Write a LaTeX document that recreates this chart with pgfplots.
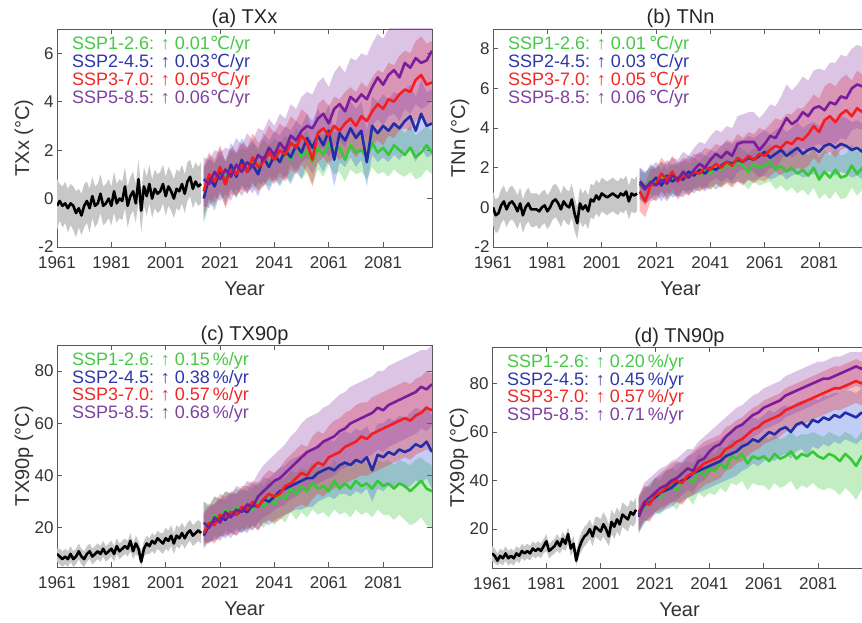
\documentclass[border=0pt]{standalone}
\usepackage{pgfplots}
\pgfplotsset{compat=1.18}
\usepackage{pgfplotstable}
\usepgfplotslibrary{fillbetween}
\usepackage{fontspec}
\setmainfont{Liberation Sans}
\newfontfamily\dejavu{DejaVu Sans}

\definecolor{cg}{RGB}{55,200,55}
\definecolor{cb}{RGB}{35,45,170}
\definecolor{cr}{RGB}{245,30,30}
\definecolor{cp}{RGB}{120,30,155}
\definecolor{bandb}{RGB}{50,90,220}
\definecolor{bandp}{RGB}{140,60,170}
\definecolor{tg}{RGB}{70,200,70}
\definecolor{tb}{RGB}{45,55,170}
\definecolor{tr}{RGB}{240,40,40}
\definecolor{tp}{RGB}{125,65,160}

\newcommand{\cel}{{\dejavu ℃}}

% historical runs: year, mean, band low, band high
\pgfplotstableread{
yr m lo hi
1961 -0.3 -1.3 0.8
1962 -0.1 -0.9 0.6
1963 -0.3 -1.2 0.5
1964 -0.2 -1.0 0.7
1965 -0.4 -1.4 0.4
1966 -0.2 -1.1 0.6
1967 -0.3 -1.3 0.5
1968 -0.6 -1.6 0.3
1969 -0.4 -1.2 0.4
1970 -0.7 -1.5 0.2
1971 -0.3 -1.2 0.6
1972 -0.1 -1.0 0.7
1973 -0.4 -1.4 0.4
1974 0.1 -0.8 0.9
1975 -0.3 -1.2 0.5
1976 -0.2 -1.0 0.6
1977 0.2 -0.6 1.0
1978 -0.3 -1.1 0.5
1979 -0.2 -1.0 0.6
1980 0.0 -0.8 0.8
1981 -0.3 -1.1 0.5
1982 0.3 -0.6 1.1
1983 -0.2 -1.0 0.6
1984 0.0 -0.8 0.8
1985 -0.1 -0.9 0.7
1986 0.5 -0.4 1.3
1987 -0.3 -1.2 0.5
1988 0.1 -0.7 0.9
1989 0.3 -0.5 1.1
1990 -0.2 -1.0 0.6
1991 0.8 -0.1 1.6
1992 -0.5 -1.4 0.3
1993 0.5 -0.3 1.3
1994 0.1 -0.7 0.9
1995 0.6 -0.2 1.4
1996 0.0 -0.8 0.8
1997 0.4 -0.4 1.2
1998 0.2 -0.6 1.0
1999 0.3 -0.5 1.1
2000 0.6 -0.2 1.4
2001 0.1 -0.7 0.9
2002 0.5 -0.3 1.3
2003 0.3 -0.5 1.1
2004 0.0 -0.8 0.8
2005 0.4 -0.4 1.2
2006 0.3 -0.5 1.1
2007 0.6 -0.2 1.4
2008 0.2 -0.6 1.0
2009 0.7 -0.1 1.5
2010 0.9 0.1 1.6
2011 0.4 -0.4 1.2
2012 0.7 -0.1 1.5
2013 0.5 -0.3 1.3
2014 0.6 -0.2 1.5
}\histA

\pgfplotstableread{
yr g gl gh b bl bh r rl rh p pl ph
2015 0.3 -1.0 1.3 0.0 -0.9 1.2 0.3 -0.6 1.4 0.8 -0.3 1.7
2017 0.9 -0.2 1.6 0.9 -0.1 1.8 1.0 0.0 1.9 0.6 -0.4 1.6
2019 0.7 -0.3 1.5 0.5 -0.5 1.4 0.7 -0.2 1.6 1.1 0.1 2.0
2021 1.1 0.2 1.8 1.2 0.2 2.1 1.3 0.3 2.2 0.8 -0.1 1.9
2023 0.8 -0.1 1.6 0.6 -0.3 1.5 0.6 -0.4 1.5 1.2 0.2 2.1
2025 1.3 0.4 2.0 1.4 0.4 2.3 1.2 0.2 2.1 0.9 -0.1 2.0
2027 1.0 0.1 1.8 0.9 0.0 1.9 1.0 0.1 1.9 1.4 0.4 2.5
2029 1.4 0.5 2.1 1.6 0.6 2.5 1.4 0.4 2.3 1.1 0.1 2.2
2031 1.2 0.3 2.0 1.1 0.2 2.1 1.1 0.2 2.1 1.5 0.5 2.7
2033 1.5 0.6 2.3 1.4 0.5 2.4 1.7 0.7 2.7 1.3 0.2 2.4
2035 1.3 0.4 2.1 1.0 0.1 2.0 1.3 0.3 2.3 1.8 0.7 2.9
2037 1.6 0.7 2.4 1.7 0.7 2.7 1.5 0.5 2.5 1.6 0.5 2.8
2039 1.4 0.5 2.2 1.3 0.3 2.4 1.9 0.8 3.0 2.1 0.9 3.3
2041 1.8 0.9 2.5 1.8 0.8 2.8 1.6 0.6 2.7 1.8 0.7 3.0
2043 1.5 0.6 2.3 1.5 0.5 2.6 2.0 0.9 3.1 2.3 1.1 3.5
2045 1.9 1.0 2.6 2.0 0.9 3.0 1.8 0.7 2.9 2.0 0.8 3.3
2047 1.6 0.7 2.4 1.7 0.6 2.8 2.3 1.2 3.4 2.6 1.4 3.9
2049 2.2 1.3 2.9 2.2 1.1 3.2 2.1 1.0 3.2 2.4 1.1 3.7
2051 1.7 0.8 2.5 1.9 0.8 3.0 2.6 1.4 3.7 2.8 1.5 4.2
2053 2.0 1.1 2.8 2.5 1.4 3.5 2.3 1.1 3.5 3.0 1.7 4.4
2055 1.5 0.6 2.3 2.1 1.0 3.2 1.6 0.5 2.8 2.9 1.5 4.3
2057 2.1 1.2 2.9 2.6 1.5 3.7 2.7 1.5 3.9 3.3 1.9 4.8
2059 1.8 0.9 2.6 2.2 1.1 3.3 2.9 1.7 4.1 3.5 2.1 5.0
2061 2.3 1.4 3.0 2.8 1.6 3.9 2.6 1.4 3.8 3.1 1.7 4.6
2063 1.9 1.0 2.7 1.6 0.5 2.8 3.0 1.8 4.2 3.7 2.2 5.2
2065 2.1 1.1 2.9 2.7 1.5 3.8 2.8 1.6 4.1 3.9 2.4 5.5
2067 1.6 0.7 2.4 2.4 1.3 3.6 3.1 1.8 4.4 3.6 2.1 5.2
2069 2.2 1.2 3.0 2.9 1.7 4.0 3.3 2.0 4.6 4.2 2.7 5.8
2071 1.9 1.0 2.7 2.5 1.3 3.7 3.0 1.7 4.4 4.0 2.5 5.7
2073 2.0 1.1 2.8 2.8 1.6 4.0 3.4 2.0 4.8 4.3 2.7 6.0
2075 1.7 0.8 2.5 1.5 0.5 2.8 3.2 1.8 4.6 4.1 2.5 5.9
2077 2.3 1.3 3.1 3.0 1.8 4.2 3.6 2.2 5.0 4.6 3.0 6.4
2079 1.9 1.0 2.7 2.7 1.5 4.0 3.9 2.4 5.3 5.0 3.3 6.8
2081 2.1 1.1 2.9 3.0 1.7 4.3 3.7 2.2 5.2 4.7 3.0 6.6
2083 1.8 0.9 2.7 2.8 1.5 4.1 4.1 2.6 5.6 5.1 3.4 7.0
2085 2.2 1.2 3.0 3.1 1.8 4.4 4.0 2.5 5.5 5.3 3.5 7.2
2087 2.0 1.0 2.9 2.9 1.6 4.3 4.3 2.8 5.9 5.0 3.2 7.0
2089 1.8 0.9 2.7 3.2 1.9 4.5 4.5 2.9 6.1 5.6 3.7 7.5
2091 2.1 1.1 3.0 3.4 2.0 4.7 4.4 2.8 6.0 5.4 3.5 7.4
2093 1.7 0.8 2.6 2.8 1.5 4.2 4.9 3.2 6.5 5.8 3.9 7.8
2095 1.9 0.9 2.8 3.5 2.1 4.9 5.1 3.4 6.7 5.6 3.7 7.7
2097 2.2 1.2 3.0 3.0 1.7 4.4 4.7 3.0 6.4 5.7 3.8 7.8
2099 1.9 1.0 2.8 3.1 1.8 4.5 4.8 3.1 6.5 6.1 4.1 8.0
}\futA

\pgfplotstableread{
yr m lo hi
1961 0.0 -0.9 0.8
1962 -0.4 -1.3 0.4
1963 -0.3 -1.2 0.5
1964 0.1 -0.8 0.9
1965 0.3 -0.6 1.1
1966 -0.1 -1.0 0.7
1967 0.2 -0.7 1.0
1968 0.3 -0.6 1.1
1969 0.1 -0.8 0.9
1970 -0.2 -1.1 0.6
1971 0.2 -0.7 1.0
1972 -0.4 -1.3 0.4
1973 0.0 -0.9 0.8
1974 0.2 -0.7 1.0
1975 -0.1 -1.0 0.7
1976 -0.1 -1.0 0.7
1977 -0.1 -0.9 0.7
1978 -0.2 -1.1 0.6
1979 0.0 -0.9 0.8
1980 0.1 -0.8 0.9
1981 -0.2 -1.1 0.6
1982 0.0 -0.9 0.8
1983 0.3 -0.6 1.1
1984 0.4 -0.5 1.2
1985 0.2 -0.7 1.0
1986 -0.1 -1.0 0.7
1987 0.3 -0.6 1.1
1988 0.1 -0.8 0.9
1989 0.0 -0.9 0.8
1990 0.4 -0.5 1.2
1991 -0.3 -1.2 0.5
1992 -0.8 -1.6 0.0
1993 0.2 -0.7 1.0
1994 -0.1 -1.0 0.7
1995 0.1 -0.8 0.9
1996 -0.2 -1.1 0.6
1997 0.4 -0.5 1.2
1998 0.3 -0.6 1.1
1999 0.6 -0.3 1.4
2000 0.4 -0.5 1.2
2001 0.7 -0.2 1.5
2002 0.6 -0.3 1.4
2003 0.5 -0.4 1.3
2004 0.6 -0.3 1.4
2005 0.7 -0.2 1.5
2006 0.6 -0.3 1.4
2007 0.5 -0.4 1.3
2008 0.7 -0.2 1.5
2009 0.6 -0.3 1.4
2010 0.8 -0.1 1.6
2011 0.3 -0.6 1.1
2012 0.7 -0.2 1.5
2013 0.6 -0.3 1.4
2014 0.7 -0.2 1.6
}\histB

\pgfplotstableread{
yr g gl gh b bl bh r rl rh p pl ph
2015 1.1 0.4 1.8 1.3 0.5 2.0 0.8 -0.2 1.5 1.2 0.4 2.0
2017 1.0 0.3 1.7 1.0 0.2 1.8 0.3 -0.5 1.2 0.9 0.1 1.7
2019 1.4 0.7 2.1 1.2 0.4 2.0 1.1 0.3 1.9 1.3 0.5 2.2
2021 1.3 0.5 2.0 1.5 0.7 2.3 1.2 0.4 2.0 1.1 0.3 1.9
2023 1.6 0.8 2.3 1.1 0.3 1.9 1.7 0.8 2.5 1.4 0.6 2.3
2025 1.2 0.4 1.9 1.6 0.8 2.4 1.4 0.5 2.2 1.2 0.3 2.1
2027 1.5 0.7 2.2 1.3 0.5 2.1 1.8 0.9 2.6 1.6 0.7 2.5
2029 1.4 0.6 2.1 1.5 0.6 2.3 1.3 0.4 2.2 1.4 0.5 2.4
2031 1.7 0.9 2.4 1.4 0.5 2.3 1.6 0.7 2.5 1.8 0.9 2.8
2033 1.5 0.7 2.2 1.8 0.9 2.6 1.5 0.6 2.4 1.5 0.6 2.6
2035 1.8 1.0 2.5 1.6 0.7 2.5 1.8 0.9 2.7 1.9 0.9 3.0
2037 1.6 0.8 2.3 1.9 1.0 2.8 1.7 0.8 2.7 2.2 1.1 3.3
2039 1.9 1.1 2.6 1.7 0.8 2.6 2.0 1.0 3.0 2.0 0.9 3.2
2041 1.7 0.9 2.5 2.0 1.1 2.9 1.9 0.9 2.9 2.4 1.3 3.6
2043 2.0 1.2 2.8 1.9 0.9 2.8 2.2 1.2 3.2 2.7 1.5 3.9
2045 1.9 1.0 2.7 2.1 1.1 3.1 2.0 1.0 3.1 2.5 1.3 3.8
2047 2.2 1.3 3.0 2.3 1.3 3.3 2.3 1.2 3.4 2.8 1.5 4.1
2049 2.0 1.1 2.8 2.2 1.2 3.2 2.1 1.0 3.3 2.6 1.3 4.0
2051 2.3 1.4 3.1 2.4 1.3 3.4 2.5 1.3 3.7 3.2 1.8 4.6
2053 2.1 1.2 2.9 2.3 1.2 3.4 2.3 1.1 3.5 3.3 1.9 4.7
2055 1.8 0.9 2.7 2.5 1.4 3.6 2.6 1.4 3.8 3.3 1.9 4.8
2057 2.2 1.3 3.0 2.4 1.3 3.5 2.4 1.2 3.7 3.3 1.8 4.8
2059 2.0 1.1 2.9 2.6 1.5 3.7 2.7 1.4 4.0 2.9 1.5 4.5
2061 2.1 1.2 3.0 2.8 1.6 3.9 2.6 1.3 3.9 3.2 1.7 4.8
2063 2.3 1.3 3.2 2.5 1.4 3.7 2.9 1.6 4.2 3.6 2.0 5.2
2065 1.9 0.9 2.8 2.7 1.5 3.9 3.1 1.8 4.5 3.5 1.9 5.1
2067 2.1 1.1 3.0 2.9 1.7 4.1 3.0 1.6 4.4 4.0 2.4 5.6
2069 1.8 0.8 2.8 2.6 1.4 3.8 3.3 1.9 4.7 4.5 2.8 6.2
2071 2.0 1.0 3.0 2.8 1.6 4.0 3.2 1.8 4.7 4.2 2.5 5.9
2073 1.7 0.7 2.7 3.0 1.7 4.3 3.5 2.0 5.0 4.4 2.7 6.2
2075 1.9 0.9 2.9 2.7 1.5 4.0 3.4 1.9 5.0 4.8 3.0 6.6
2077 1.6 0.6 2.6 2.9 1.6 4.2 3.7 2.1 5.3 4.6 2.8 6.4
2079 2.0 1.0 3.0 3.0 1.7 4.3 4.1 2.5 5.7 5.0 3.1 6.9
2081 1.4 0.4 2.5 2.8 1.5 4.1 3.8 2.2 5.5 5.1 3.2 7.0
2083 1.8 0.7 2.9 3.1 1.8 4.4 4.4 2.7 6.1 4.9 3.0 6.9
2085 1.5 0.4 2.6 3.2 1.8 4.6 4.6 2.8 6.3 5.3 3.3 7.3
2087 1.9 0.8 3.0 3.0 1.6 4.4 4.3 2.5 6.1 5.2 3.2 7.3
2089 1.5 0.4 2.6 3.2 1.8 4.6 4.7 2.9 6.5 5.6 3.5 7.7
2091 1.6 0.5 2.7 3.1 1.7 4.5 4.9 3.0 6.7 5.5 3.4 7.6
2093 2.1 1.0 3.2 2.9 1.5 4.3 4.6 2.8 6.4 6.0 3.9 8.0
2095 1.7 0.6 2.8 3.0 1.6 4.4 5.0 3.1 6.9 6.2 4.0 8.2
2097 2.0 0.9 3.1 2.8 1.4 4.2 4.8 2.9 6.7 6.1 3.9 8.1
2099 1.9 0.8 3.0 2.9 1.5 4.3 5.1 3.2 7.0 6.5 4.3 8.5
}\futB

\pgfplotstableread{
yr m lo hi
1961 10 7 12
1962 9 6 12
1963 8 5 11
1964 9 6 12
1965 8 5 11
1966 10 7 13
1967 8 5 11
1968 9 6 12
1969 11 8 14
1970 9 6 12
1971 8 5 11
1972 10 7 13
1973 11 8 14
1974 9 6 12
1975 10 7 13
1976 11 8 14
1977 10 7 13
1978 12 9 15
1979 10 7 13
1980 11 8 14
1981 12 9 15
1982 10 7 13
1983 13 10 16
1984 11 8 14
1985 12 9 15
1986 13 10 16
1987 12 9 15
1988 15 11 18
1989 11 8 14
1990 14 10 17
1991 12 9 15
1992 7 5 11
1993 12 9 15
1994 14 10 17
1995 13 10 16
1996 15 11 18
1997 14 10 17
1998 16 12 19
1999 15 11 18
2000 14 10 18
2001 16 12 20
2002 15 11 19
2003 17 13 21
2004 14 10 18
2005 17 13 21
2006 16 12 20
2007 18 14 22
2008 16 12 20
2009 18 14 22
2010 19 15 23
2011 17 13 21
2012 18 14 22
2013 19 15 23
2014 18 14 22
}\histC

\pgfplotstableread{
yr g gl gh b bl bh r rl rh p pl ph
2015 22 14 30 17 12 25 18 13 26 22 15 30
2017 21 14 29 21 15 28 22 15 29 20 14 28
2019 25 17 32 22 15 29 21 14 29 24 16 32
2021 23 16 31 24 17 31 25 17 33 22 15 31
2023 27 19 34 23 16 31 24 17 32 26 18 34
2025 25 18 33 26 18 33 26 18 34 24 16 33
2027 28 20 35 25 17 33 25 17 33 27 19 36
2029 26 18 34 27 19 35 28 20 36 26 18 35
2031 29 21 36 26 18 34 27 19 36 29 20 38
2033 27 19 35 29 21 37 30 21 38 28 19 37
2035 30 22 38 28 19 36 28 19 37 32 22 41
2037 28 20 36 31 22 39 31 22 40 34 24 44
2039 31 23 39 30 21 39 33 23 42 36 25 46
2041 29 21 37 32 23 41 32 22 41 38 27 48
2043 33 24 40 34 24 43 33 23 43 39 28 50
2045 31 22 39 35 25 44 36 25 46 41 29 52
2047 35 26 42 36 26 46 37 26 48 43 31 55
2049 33 23 41 37 27 47 39 28 50 45 32 57
2051 36 26 43 38 27 48 41 29 52 47 34 60
2053 34 24 42 39 28 49 40 28 51 49 35 62
2055 37 27 45 39 28 50 43 31 55 50 36 63
2057 35 25 43 41 30 52 45 33 57 51 37 64
2059 36 26 44 42 31 53 44 32 56 53 38 66
2061 34 24 42 43 32 54 47 34 59 54 39 67
2063 38 27 46 42 31 53 48 35 61 55 40 69
2065 35 25 43 44 33 56 49 36 62 57 42 71
2067 37 26 45 45 33 57 51 37 64 58 43 72
2069 35 24 43 44 32 56 52 38 65 60 44 74
2071 38 27 46 46 34 58 53 39 67 61 45 75
2073 36 25 45 45 33 57 55 40 68 62 46 76
2075 37 26 45 47 35 59 54 40 68 63 47 77
2077 35 24 44 42 30 55 56 41 70 64 48 78
2079 38 27 46 48 35 60 57 42 71 66 50 80
2081 36 25 45 47 34 60 58 43 72 65 49 80
2083 37 25 46 49 36 62 59 44 73 67 51 82
2085 35 23 44 48 35 61 60 45 74 68 52 83
2087 37 25 46 50 37 63 61 46 75 69 53 84
2089 36 23 45 49 35 62 62 47 76 70 54 85
2091 34 21 44 50 36 64 61 46 75 71 55 86
2093 36 22 46 52 38 66 63 48 77 72 56 87
2095 38 24 47 51 37 65 64 49 78 74 58 88
2097 35 21 45 53 39 67 66 50 80 73 57 88
2099 34 20 44 49 35 63 65 49 79 75 59 90
}\futC

\pgfplotstableread{
yr m lo hi
1961 10 7 13
1962 9 6 12
1963 7 5 10
1964 9 6 12
1965 8 5 11
1966 10 7 13
1967 8 5 11
1968 9 6 12
1969 8 5 11
1970 10 7 13
1971 9 6 12
1972 11 8 14
1973 10 7 13
1974 11 8 14
1975 10 7 13
1976 12 9 15
1977 11 8 14
1978 12 9 15
1979 11 8 14
1980 13 10 16
1981 15 11 18
1982 11 8 14
1983 12 9 15
1984 13 10 16
1985 15 11 18
1986 13 10 16
1987 16 12 19
1988 14 11 17
1989 18 14 21
1990 12 9 15
1991 14 11 17
1992 7 5 11
1993 12 9 16
1994 15 11 19
1995 17 13 21
1996 18 14 22
1997 20 16 24
1998 17 13 21
1999 21 17 25
2000 20 16 25
2001 19 15 24
2002 22 17 27
2003 20 15 25
2004 17 13 22
2005 23 18 28
2006 21 16 26
2007 24 19 29
2008 22 17 27
2009 26 21 31
2010 25 20 30
2011 24 19 29
2012 27 22 32
2013 26 21 31
2014 28 23 33
}\histD

\pgfplotstableread{
yr g gl gh b bl bh r rl rh p pl ph
2015 26 19 33 26 19 33 27 20 34 25 18 33
2017 29 22 36 30 23 37 31 24 38 31 23 39
2019 32 25 39 31 24 38 30 23 37 33 25 41
2021 34 27 41 33 26 41 34 27 41 35 27 43
2023 33 26 40 35 27 42 35 28 43 37 29 45
2025 37 29 44 36 28 44 37 29 45 38 30 46
2027 38 30 45 37 29 45 39 31 47 40 31 48
2029 36 28 44 39 31 47 40 31 48 41 32 49
2031 40 32 47 40 31 48 39 30 47 43 34 51
2033 41 33 48 41 33 50 42 33 50 45 36 53
2035 39 30 47 43 34 51 43 34 52 44 35 53
2037 44 35 51 44 35 53 45 36 54 48 39 56
2039 42 33 50 45 36 54 47 38 56 49 40 58
2041 45 35 52 46 37 55 48 39 57 52 43 60
2043 44 34 51 47 38 56 49 40 58 54 45 62
2045 47 37 54 48 39 57 50 41 59 55 46 64
2047 45 35 53 50 40 59 53 44 62 58 49 66
2049 50 39 57 51 41 60 54 45 63 60 51 68
2051 49 38 56 52 42 61 56 47 65 62 53 70
2053 51 40 58 54 44 63 57 48 66 63 54 71
2055 47 36 55 55 45 64 59 50 68 65 56 73
2057 50 39 57 57 47 66 61 52 70 67 58 75
2059 49 38 57 56 46 65 62 53 71 68 59 76
2061 50 38 58 58 48 67 64 55 73 70 61 78
2063 48 36 57 60 49 69 65 56 74 71 62 79
2065 51 39 59 59 48 68 66 57 75 72 63 80
2067 49 37 57 61 50 70 67 58 76 73 64 81
2069 50 38 58 62 51 71 69 60 78 75 66 83
2071 52 40 60 60 49 70 70 61 79 76 67 84
2073 49 36 58 63 52 72 71 62 80 77 68 85
2075 51 38 59 64 53 73 72 63 81 78 69 86
2077 50 37 59 62 50 72 73 64 82 79 70 87
2079 52 39 60 65 54 74 74 65 83 80 71 88
2081 50 37 59 64 53 73 75 66 84 81 72 89
2083 49 36 58 66 55 75 76 67 85 82 73 89
2085 51 37 60 65 54 75 77 68 86 82 74 90
2087 50 36 59 67 56 76 78 69 87 83 75 91
2089 48 34 58 66 55 76 78 69 87 84 76 91
2091 51 37 60 68 57 77 79 70 88 85 77 92
2093 49 35 59 67 56 77 80 71 89 86 78 93
2095 46 32 57 66 55 76 81 72 90 87 79 93
2097 50 36 60 68 57 78 80 71 89 86 78 93
2099 49 35 59 66 55 76 82 73 91 88 80 94
}\futD

\pgfplotsset{
  panel/.style={
    scale only axis, width=375pt, anchor=south west,
    xmin=1961, xmax=2099,
    xtick={1961,1981,2001,2021,2041,2061,2081},
    tick align=inside, major tick length=5pt,
    axis line style={black!65, line width=0.8pt},
    tick style={black!65, line width=0.8pt},
    /pgf/number format/assume math mode=true,
    /pgf/number format/1000 sep={},
    ticklabel style={font=\fontsize{17}{17}\selectfont, text=black!80},
    xticklabel style={yshift=-6pt},
    xlabel={Year},
    every axis x label/.style={at={(axis description cs:0.5,0)}, anchor=base, yshift=-49pt,
      font=\fontsize{20}{20}\selectfont, text=black!80},
    every axis y label/.style={at={(axis description cs:-0.088,0.5)}, rotate=90, anchor=center,
      font=\fontsize{20}{20}\selectfont, text=black!80},
    every axis title/.style={at={(axis description cs:0.5,1)}, anchor=base, yshift=5pt,
      font=\fontsize{20}{20}\selectfont, text=black!85},
  },
}

\newcommand{\band}[5]{%
  \addplot[draw=none, forget plot, name path=L#2] table[x=yr, y=#2] {#1};
  \addplot[draw=none, forget plot, name path=H#3] table[x=yr, y=#3] {#1};
  \addplot[draw=none, fill=#4, fill opacity=#5, forget plot] fill between[of=L#2 and H#3];
}

\newcommand{\allseries}[2]{%
  \band{#2}{lo}{hi}{black!22}{1}
  \band{#1}{gl}{gh}{cg}{0.3}
  \band{#1}{bl}{bh}{bandb}{0.3}
  \band{#1}{rl}{rh}{cr}{0.3}
  \band{#1}{pl}{ph}{bandp}{0.3}
  \addplot[black, line width=2.6pt, line join=round] table[x=yr, y=m] {#2};
  \addplot[cg, line width=2.6pt, line join=round] table[x=yr, y=g] {#1};
  \addplot[cb, line width=2.6pt, line join=round] table[x=yr, y=b] {#1};
  \addplot[cr, line width=2.6pt, line join=round] table[x=yr, y=r] {#1};
  \addplot[cp, line width=2.6pt, line join=round] table[x=yr, y=p] {#1};
}

\newcommand{\trend}[4]{%
  \node[anchor=north west, align=left, inner sep=0pt, font=\fontsize{18}{16.5}\selectfont]
    at (rel axis cs:0.04,0.968) {%
    \textcolor{tg}{SSP1-2.6: ↑ #1}\\
    \textcolor{tb}{SSP2-4.5: ↑ #2}\\
    \textcolor{tr}{SSP3-7.0: ↑ #3}\\
    \textcolor{tp}{SSP5-8.5: ↑ #4}};
}

\begin{document}
\begin{tikzpicture}

\begin{axis}[panel, at={(57pt,376pt)}, height=218pt,
  ymin=-2, ymax=7, ytick={-2,0,2,4,6},
  title={(a) TXx}, ylabel={TXx (°C)}]
\allseries{\futA}{\histA}
\trend{0.01\cel/yr}{0.03\cel/yr}{0.05\cel/yr}{0.06\cel/yr}
\end{axis}

\begin{axis}[panel, at={(493pt,376pt)}, height=218pt,
  ymin=-2, ymax=9, ytick={-2,0,2,4,6,8},
  title={(b) TNn}, ylabel={TNn (°C)}]
\allseries{\futB}{\histB}
\trend{0.01\,\cel/yr}{0.03\,\cel/yr}{0.05\,\cel/yr}{0.06\,\cel/yr}
\end{axis}

\begin{axis}[panel, at={(57pt,56pt)}, height=222pt,
  ymin=5, ymax=90, ytick={20,40,60,80},
  title={(c) TX90p}, ylabel={TX90p (°C)}]
\allseries{\futC}{\histC}
\trend{0.15\,\%/yr}{0.38\,\%/yr}{0.57\,\%/yr}{0.68\,\%/yr}
\end{axis}

\begin{axis}[panel, at={(492pt,55pt)}, height=221pt,
  ymin=4, ymax=95, ytick={20,40,60,80},
  title={(d) TN90p}, ylabel={TX90p (°C)}]
\allseries{\futD}{\histD}
\trend{0.20\,\%/yr}{0.45\,\%/yr}{0.57\,\%/yr}{0.71\,\%/yr}
\end{axis}

\pgfresetboundingbox
\path[use as bounding box] (0,0) rectangle (862pt,623pt);
\end{tikzpicture}
\end{document}
